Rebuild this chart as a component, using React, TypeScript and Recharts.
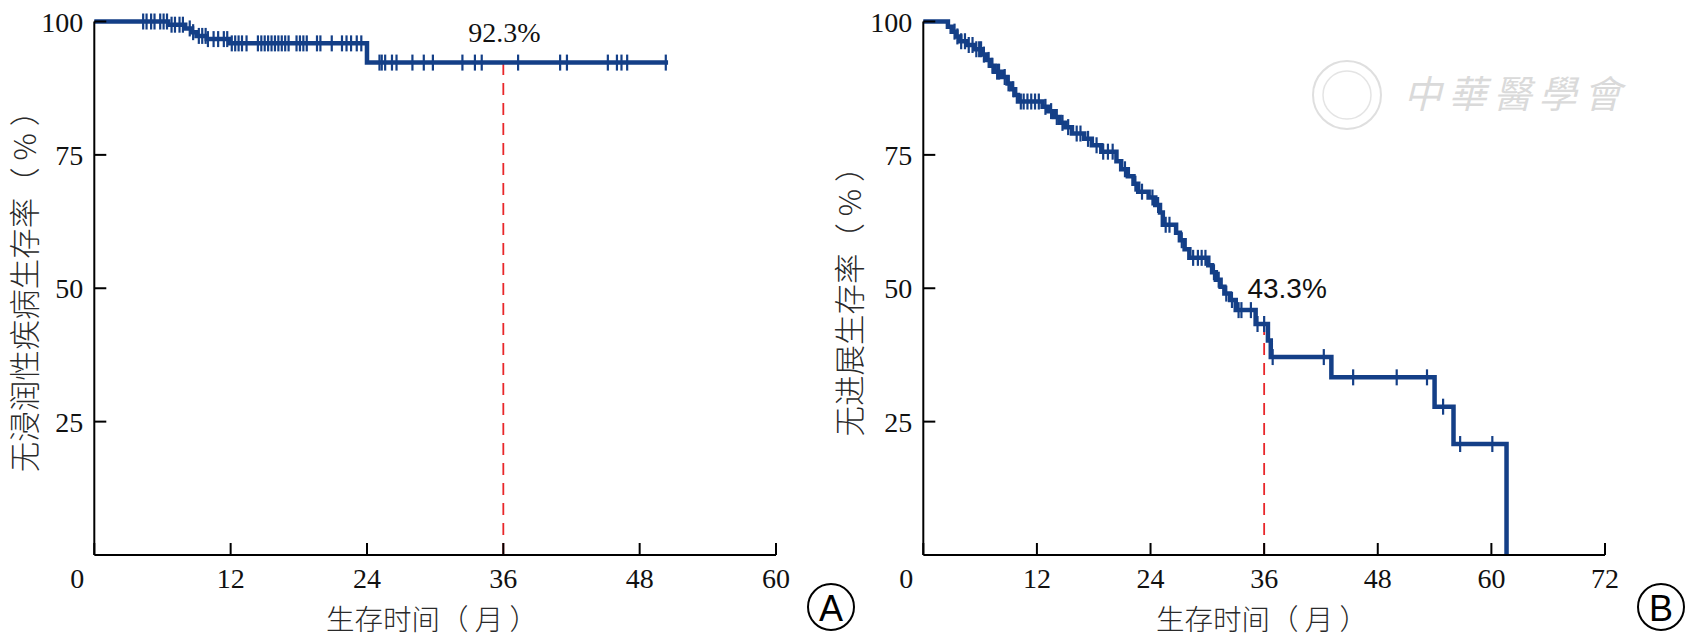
import React from 'react';
import { ComposedChart, Line, Scatter, XAxis, YAxis, ReferenceLine, ReferenceDot } from 'recharts';

// ---------- Panel A: invasive-disease-free survival ----------
const timesA = [0, 6.5, 8.0, 8.6, 9.0, 9.9, 11.9, 24.0, 50.5];
const survA = [100, 99.4, 98.7, 98.0, 97.3, 96.7, 95.9, 92.3, 92.3];
const censorA = [
  4.3, 4.6, 5.0, 5.3, 5.8, 6.1, 6.4, 6.8, 7.1, 7.5, 7.8, 8.4, 8.7, 9.2, 9.5, 9.8,
  10.0, 10.5, 10.9, 11.4, 11.7, 12.1, 12.4, 12.7, 13.0, 13.4, 14.4, 14.7, 15.0, 15.3,
  15.6, 15.9, 16.2, 16.5, 16.8, 17.1, 17.8, 18.1, 18.4, 18.7, 19.6, 19.9, 20.9, 21.8,
  22.2, 22.6, 23.1, 23.5, 25.1, 25.3, 25.6, 26.2, 26.6, 28.0, 29.0, 29.8, 32.4, 33.5,
  34.1, 37.3, 41.0, 41.6, 45.2, 46.0, 46.4, 46.9, 50.3,
];
const ticksA = [0, 12, 24, 36, 48, 60];
const markA = { t: 36, s: 92.3, label: '92.3%' };

// ---------- Panel B: progression-free survival ----------
const timesB = [
  0, 2.6, 3.0, 3.5, 3.9, 4.6, 5.4, 6.2, 6.6, 7.1, 7.5, 8.3, 8.9, 9.3, 9.7, 10.0,
  12.6, 13.2, 13.8, 14.4, 15.0, 15.7, 17.0, 17.8, 18.8, 20.4, 20.9, 21.6, 22.2, 22.7,
  23.8, 24.5, 25.0, 25.3, 26.7, 27.1, 27.6, 28.1, 30.1, 30.5, 30.9, 31.4, 31.8, 32.4,
  33.0, 35.1, 36.4, 36.7, 43.1, 54.0, 56.0, 61.6,
];
const survB = [
  100, 99.0, 98.1, 97.2, 96.3, 95.6, 94.8, 93.8, 92.8, 91.7, 90.6, 89.6, 88.4, 87.3, 86.2, 85.0,
  84.0, 83.2, 82.1, 81.0, 80.2, 79.0, 78.0, 76.8, 75.6, 73.8, 72.3, 71.0, 69.6, 68.1,
  67.0, 65.6, 64.2, 61.9, 60.4, 59.0, 57.3, 55.7, 54.3, 53.0, 51.6, 50.3, 49.0, 47.8,
  45.9, 43.3, 40.2, 37.1, 33.3, 27.8, 20.8, 0,
];
const censorB = [
  3.3, 3.6, 4.0, 4.4, 4.8, 5.2, 5.6, 5.9, 6.1, 6.4, 6.9, 7.3, 7.8, 8.0, 8.6, 9.0, 9.5,
  10.3, 10.6, 11.0, 11.4, 11.8, 12.2, 12.9, 13.5, 14.1, 14.7, 15.3, 16.2, 16.6, 17.4,
  18.3, 19.0, 19.5, 20.0, 21.3, 22.4, 23.1, 24.2, 24.8, 25.6, 26.0, 27.3, 28.5, 29.0,
  29.4, 29.8, 30.7, 31.2, 32.0, 32.6, 33.3, 33.6, 34.6, 35.3, 36.0, 36.9, 42.3, 45.4,
  50.0, 53.2, 54.9, 56.7, 60.1,
];
const ticksB = [0, 12, 24, 36, 48, 60, 72];
const markB = { t: 36, s: 43.3, label: '43.3%' };

const yTicks = [25, 50, 75, 100];

// ---------- helpers ----------
const survAt = (times: number[], surv: number[], t: number) => {
  let v = surv[0];
  for (let i = 0; i < times.length; i++) if (times[i] <= t) v = surv[i];
  return v;
};
const toLine = (times: number[], surv: number[]) => times.map((t, i) => ({ t, s: surv[i] }));
const toCensor = (times: number[], surv: number[], cens: number[]) =>
  cens.map((t) => ({ t, s: survAt(times, surv, t) }));

const lineA = toLine(timesA, survA);
const censA = toCensor(timesA, survA, censorA);
const lineB = toLine(timesB, survB);
const censB = toCensor(timesB, survB, censorB);

const BLUE = '#143f87';
const SERIF = '"Liberation Serif", "Times New Roman", serif';
const CJK = '"Noto Sans CJK SC", "Noto Sans", sans-serif';

const XTick = (props: any) => {
  const { x, y, payload } = props;
  const tx = payload.value === 0 ? x - 17 : x;
  return (
    <g>
      <line x1={x} x2={x} y1={y} y2={y - 12} stroke="#000" strokeWidth={2} />
      <text x={tx} y={y + 33} textAnchor="middle" fontFamily={SERIF} fontSize={28} fill="#111">
        {payload.value}
      </text>
    </g>
  );
};

const YTick = (props: any) => {
  const { x, y, payload } = props;
  return (
    <g>
      <line x1={x} x2={x + 12} y1={y} y2={y} stroke="#000" strokeWidth={2} />
      <text x={x - 11} y={y + 10} textAnchor="end" fontFamily={SERIF} fontSize={28} fill="#111">
        {payload.value}
      </text>
    </g>
  );
};

const Censor = (props: any) => {
  const { cx, cy } = props;
  if (cx == null || cy == null) return null;
  return <line x1={cx} x2={cx} y1={cy - 8} y2={cy + 8} stroke={BLUE} strokeWidth={2.2} />;
};

const Panel = ({
  line, cens, ticks, xMax, mark, width, right, labelDx, labelDy, labelFont,
}: any) => (
  <ComposedChart
    width={width}
    height={638}
    margin={{ top: 21.5, right, bottom: 0, left: 0 }}
  >
    <XAxis
      type="number"
      dataKey="t"
      domain={[0, xMax]}
      ticks={ticks}
      height={83}
      tickSize={0}
      tickMargin={0}
      tickLine={false}
      axisLine={{ stroke: '#000', strokeWidth: 2 }}
      tick={<XTick />}
      interval={0}
    />
    <YAxis
      type="number"
      dataKey="s"
      domain={[0, 100]}
      ticks={yTicks}
      width={94.3}
      tickSize={0}
      tickMargin={0}
      tickLine={false}
      axisLine={{ stroke: '#000', strokeWidth: 2 }}
      tick={<YTick />}
      interval={0}
    />
    <ReferenceLine
      segment={[{ x: mark.t, y: 0 }, { x: mark.t, y: mark.s }]}
      stroke="#e8262a"
      strokeWidth={1.8}
      strokeDasharray="12 8"
    />
    <Line
      data={line}
      dataKey="s"
      type="stepAfter"
      stroke={BLUE}
      strokeWidth={4.5}
      dot={false}
      activeDot={false}
      isAnimationActive={false}
    />
    <Scatter data={cens} dataKey="s" shape={<Censor />} isAnimationActive={false} />
    <ReferenceDot
      x={mark.t}
      y={mark.s}
      r={1}
      fill="none"
      stroke="none"
      label={(p: any) => {
        const vb = p.viewBox || {};
        const cx = (vb.x ?? 0) + (vb.width ?? 0) / 2;
        const cy = (vb.y ?? 0) + (vb.height ?? 0) / 2;
        return (
          <text
            x={cx + labelDx}
            y={cy - labelDy}
            textAnchor="middle"
            fontFamily={labelFont}
            fontSize={28}
            fill="#111"
          >
            {mark.label}
          </text>
        );
      }}
    />
  </ComposedChart>
);

export default function App() {
  return (
    <div style={{ position: 'absolute', left: 0, top: 0, width: 1689, height: 638, background: '#fff', overflow: 'hidden' }}>
      <div style={{ position: 'absolute', left: 0, top: 0 }}>
        <Panel line={lineA} cens={censA} ticks={ticksA} xMax={60} mark={markA} width={829} right={53}
          labelDx={1} labelDy={21} labelFont={SERIF} />
      </div>
      <div style={{ position: 'absolute', left: 829, top: 0 }}>
        <Panel line={lineB} cens={censB} ticks={ticksB} xMax={72} mark={markB} width={860} right={84}
          labelDx={23} labelDy={26} labelFont={'"Liberation Sans", Arial, sans-serif'} />
      </div>
      <svg width={1689} height={638} style={{ position: 'absolute', left: 0, top: 0, pointerEvents: 'none' }}>
        {/* watermark */}
        <g opacity={0.9}>
          <circle cx={1347} cy={95} r={34} fill="none" stroke="#dcdcdc" strokeWidth={2} />
          <circle cx={1347} cy={95} r={24} fill="none" stroke="#e2e2e2" strokeWidth={1.5} />
          <text x={1516} y={108} textAnchor="middle" fontFamily='"Noto Sans CJK TC", "Noto Sans CJK SC", sans-serif'
            fontSize={38} letterSpacing={7} fill="#d6d6d6" fontStyle="italic">中華醫學會</text>
        </g>
        {/* axis titles */}
        <text transform="translate(23,284) rotate(-90)" textAnchor="middle" dominantBaseline="central"
          fontFamily={CJK} fontWeight={300} fontSize={30.5} fill="#2a2a2a">无浸润性疾病生存率（ % ）</text>
        <text x={432} y={617} textAnchor="middle" dominantBaseline="central"
          fontFamily={CJK} fontWeight={300} fontSize={28.5} fill="#2a2a2a">生存时间（ 月 ）</text>
        <text transform="translate(848,294) rotate(-90)" textAnchor="middle" dominantBaseline="central"
          fontFamily={CJK} fontWeight={300} fontSize={30.5} fill="#2a2a2a">无进展生存率（ % ）</text>
        <text x={1262} y={617} textAnchor="middle" dominantBaseline="central"
          fontFamily={CJK} fontWeight={300} fontSize={28.5} fill="#2a2a2a">生存时间（ 月 ）</text>
        {/* panel letters */}
        <circle cx={831} cy={607} r={23} fill="none" stroke="#000" strokeWidth={2} />
        <text x={831} y={608} textAnchor="middle" dominantBaseline="central" fontFamily='"Liberation Sans", Arial, sans-serif' fontSize={36} fill="#000">A</text>
        <circle cx={1661} cy={607} r={23} fill="none" stroke="#000" strokeWidth={2} />
        <text x={1661} y={608} textAnchor="middle" dominantBaseline="central" fontFamily='"Liberation Sans", Arial, sans-serif' fontSize={36} fill="#000">B</text>
      </svg>
    </div>
  );
}
